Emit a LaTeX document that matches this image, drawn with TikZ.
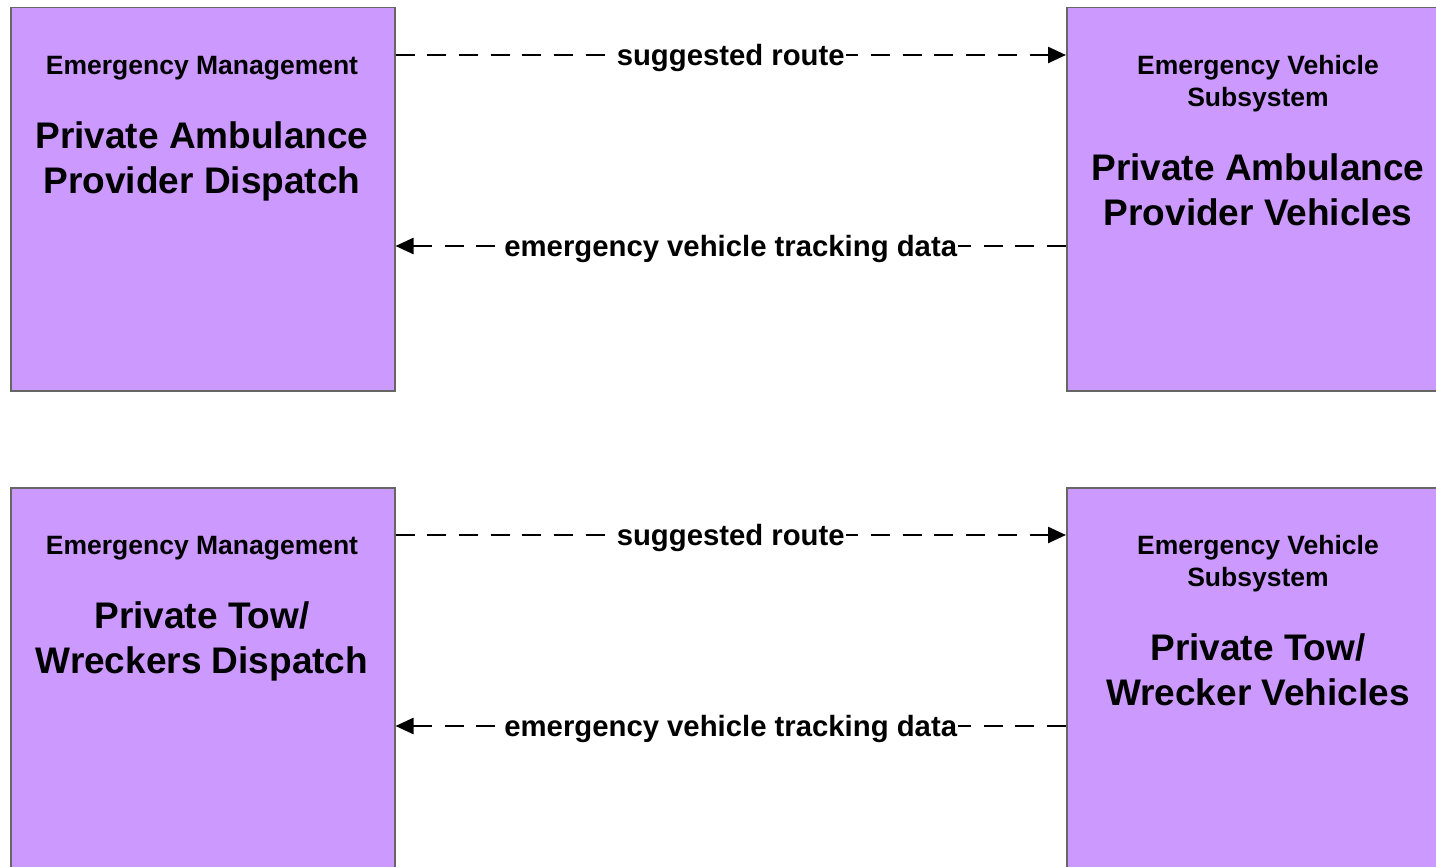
\documentclass[tikz,border=0pt]{standalone}
\usepackage{fontspec}
\setmainfont{Liberation Sans}
\usetikzlibrary{arrows.meta}
\definecolor{boxfill}{HTML}{CC99FF}
\definecolor{boxline}{HTML}{666666}
\tikzset{
  sysbox/.style={draw=boxline, line width=1.5pt, fill=boxfill, rectangle, inner sep=0pt, anchor=north west, minimum width=384pt, minimum height=383pt},
  small/.style={font=\fontsize{26.5}{31.8}\selectfont\bfseries, align=center, inner sep=0pt},
  big/.style={font=\fontsize{37}{44.5}\selectfont\bfseries, align=center, inner sep=0pt},
  flow/.style={line width=2.5pt, dash pattern=on 19pt off 12.7pt, -{Triangle[length=18pt,width=16pt]}},
  flowlabel/.style={font=\fontsize{29.3}{35}\selectfont\bfseries, fill=white, inner xsep=1pt, inner ysep=2pt, yshift=-3pt}
}
\begin{document}
\begin{tikzpicture}[x=1pt,y=-1pt]
\useasboundingbox (0,0) rectangle (1436,867);
\clip (0,0) rectangle (1436,867);
% top row
\node[sysbox] (emA) at (10,7) {};
\node[sysbox] (evA) at (1066,7) {};
\node[small] (emAt) at (202,68) {Emergency Management};
\node[big] (emAn) at (202,161.5) {Private Ambulance\\Provider Dispatch};
\node[small] (evAt) at (1258,84) {Emergency Vehicle\\Subsystem};
\node[big] (evAn) at (1258,190) {Private Ambulance\\Provider Vehicles};
\coordinate (a1s) at (emA.north east |- 0,55);
\coordinate (a1e) at (evA.north west |- 0,55);
\draw[flow] (a1s) -- node[flowlabel] (l1) {suggested route} (a1e);
\coordinate (a2s) at (evA.north west |- 0,246);
\coordinate (a2e) at (emA.north east |- 0,246);
\draw[flow] (a2s) -- node[flowlabel] (l2) {emergency vehicle tracking data} (a2e);
% bottom row
\node[sysbox] (emB) at (10,487) {};
\node[sysbox] (evB) at (1066,487) {};
\node[small] (emBt) at (202,548) {Emergency Management};
\node[big] (emBn) at (202,641.5) {Private Tow/\\Wreckers Dispatch};
\node[small] (evBt) at (1258,564) {Emergency Vehicle\\Subsystem};
\node[big] (evBn) at (1258,670) {Private Tow/\\Wrecker Vehicles};
\coordinate (b1s) at (emB.north east |- 0,535);
\coordinate (b1e) at (evB.north west |- 0,535);
\draw[flow] (b1s) -- node[flowlabel] (l3) {suggested route} (b1e);
\coordinate (b2s) at (evB.north west |- 0,726);
\coordinate (b2e) at (emB.north east |- 0,726);
\draw[flow] (b2s) -- node[flowlabel] (l4) {emergency vehicle tracking data} (b2e);
\end{tikzpicture}
\end{document}
